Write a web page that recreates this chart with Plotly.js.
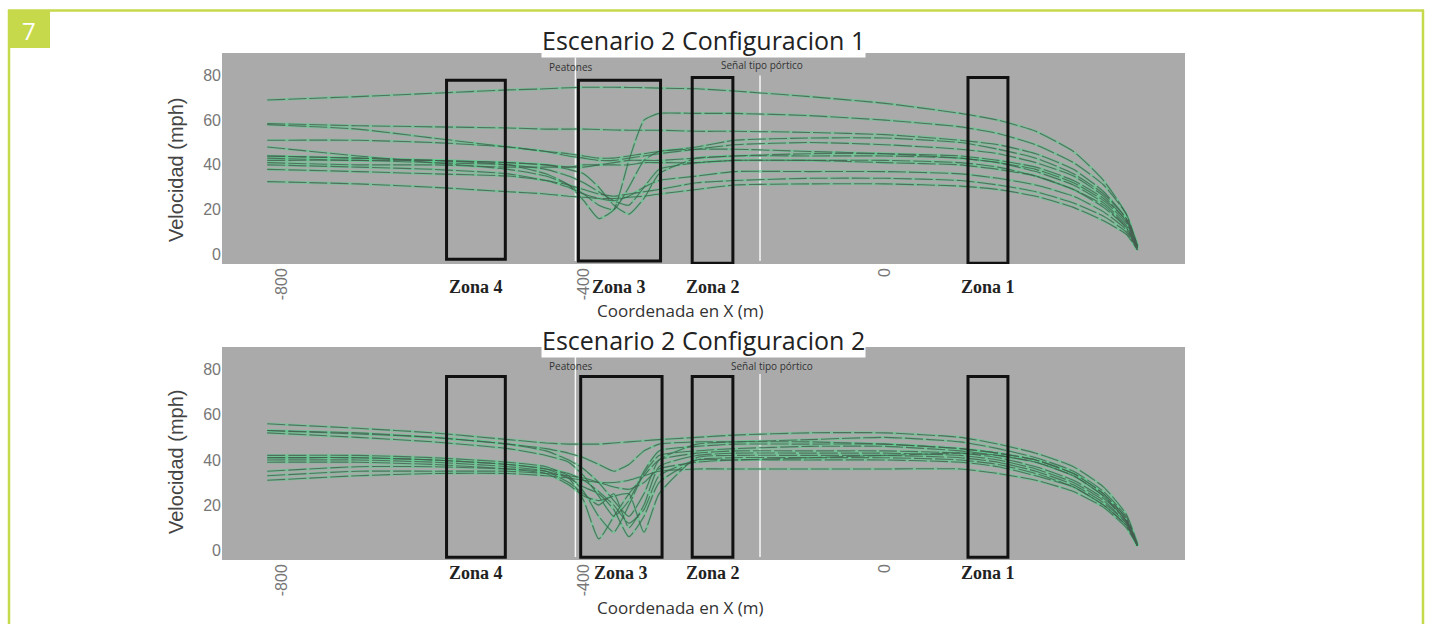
<!DOCTYPE html>
<html>
<head>
<meta charset="utf-8">
<script src="https://cdn.plot.ly/plotly-3.0.1.min.js"></script>
<style>
html,body{margin:0;padding:0;background:#fff;}
#chart{width:1432px;height:624px;}
</style>
</head>
<body>
<div id="chart"></div>
<script>
// ---- data ----
const xGrid = [-820,-700,-600,-500,-450,-420,-400,-380,-360,-340,-320,-300,-250,-200,-100,0,100,150,200,250,290,320,335];

const config1Speeds = [
  [69,70.5,72,73.5,74,74.5,74.7,74.7,74.7,74.6,74.5,74.3,74,73,70.5,67.5,63,60,55,46,33,18,3],
  [58.5,57.5,57,56.5,56,56,56,55.8,55.6,55.5,55.5,55.5,55,55,54.5,53.5,51,49,45,38,28,16,4],
  [44,43,42,40,36,31,24,16,20,42,60,63,63,63,62,60,57,54,49,41,31,18,4],
  [58,56,52,48,46,44,43,42,42,43,44,45,47,49,50,49,47,45,41,35,26,15,3],
  [51,51,50,48,46,45,44,43,43,44,45,46,48,51,52,52,50,47,43,36,27,16,4],
  [48,44,41,38,35,31,27,22,20,30,42,46,47,47,46,45,43,41,37,31,23,13,3],
  [44,43,42,41,40,39,39,40,41,42,42,42,43,44,44,44,43,41,38,32,24,14,3],
  [42,42,41,40,38,35,32,28,24,22,30,38,41,42,42,42,41,39,35,29,21,12,3],
  [41,40,40,39,39,39,40,40,40,40,41,41,41,42,42,41,40,38,35,29,22,12,2],
  [40,39,38,36,33,30,27,25,24,26,30,33,35,37,37,37,36,34,31,26,19,11,2],
  [38,37,36,35,33,31,29,27,26,27,28,29,32,33,34,34,33,31,28,23,17,10,2],
  [32.5,31.5,30,28,27,26,25.5,25,25,25.5,26,27,29,31,31.5,31.5,30.5,29,26,21,15,9,2],
  [43,42,42,41,40,38,36,30,22,18,25,36,43,44,45,45,44,42,39,33,25,15,3]
];

const config2Speeds = [
  [56,54,52,49,47.5,47,47,47,47.5,48,48.5,49,50,51,52,52,50,47,43,37,28,16,3],
  [53,51.5,50,47,45,43,41,38,35,38,44,47,48,48,49,50,48,45,41,35,26,15,2],
  [52,50,48,45,42,39,33,24,15,22,35,44,46,47,47,47,45,43,40,34,25,14,2],
  [42,42,41,39,37,33,26,15,8,20,34,42,44,45,46,46,44,42,39,33,24,13,2],
  [41,41,40,38,36,32,22,5,15,25,33,40,43,44,44,44,43,41,37,31,23,13,2],
  [40,40,39,37,35,30,25,20,25,10,20,37,42,43,43,43,42,40,36,30,22,12,2],
  [39,39,38,36,34,29,24,22,24,25,8,25,41,42,42,42,41,39,35,29,21,12,2],
  [35,37,37,36,35,32,28,25,18,6,15,30,40,41,41,41,40,38,34,28,20,11,2],
  [33,35,35,35,34,33,32,30,28,27,30,36,39,40,40,40,39,37,33,28,20,11,2],
  [31,33,34,34,33,32,31,30,30,31,33,35,36,36,36,36,36,34,31,26,19,10,2],
  [41,41,40,38,36,34,31,26,20,12,18,33,40,40,41,42,43,42,39,33,24,13,2],
  [53,52,50,47,44,40,36,30,22,15,25,40,47,48,48,47,45,43,40,34,25,14,2]
];

const xTicks = [-800,-400,0];
const xTickLabels = ['-800','-400','0'];
const yTicks = [0,20,40,60,80];

const zoneNames = ['Zona 4','Zona 3','Zona 2','Zona 1'];
const zoneX0 = [-582,-407,-256,110];
const zoneX1 = [-504,-298,-202,163];
const zoneTop1 = [77.8,77.8,79,79];
const zoneBot1 = [-2.2,-3,-4,-4];
const zoneX0b = [-582,-404,-256,110];
const zoneX1b = [-504,-296,-202,163];
const zoneTop2 = [76.9,76.9,76.9,76.9];
const zoneBot2 = [-3.1,-3.1,-3.1,-3.1];

const markerNames = ['Peatones','Señal tipo pórtico'];
const markerX = [-411,-166];
const markerLabelX1 = [-417,-163];
const markerLabelX2 = [-417,-150];

const titles = ['Escenario 2 Configuracion 1','Escenario 2 Configuracion 2'];

// ---- build ----
const traces = [];
function addLines(speeds, xa, ya){
  speeds.forEach(s=>{
    traces.push({x:xGrid,y:s,xaxis:xa,yaxis:ya,mode:'lines',hoverinfo:'skip',showlegend:false,
      line:{color:'rgba(90,205,140,0.6)',width:2.6,shape:'spline',smoothing:0.5}});
  });
  speeds.forEach(s=>{
    traces.push({x:xGrid,y:s,xaxis:xa,yaxis:ya,mode:'lines',hoverinfo:'skip',showlegend:false,
      line:{color:'rgba(70,92,80,0.8)',width:1.1,dash:'18px,3px',shape:'spline',smoothing:0.5}});
  });
}
addLines(config1Speeds,'x','y');
addLines(config2Speeds,'x2','y2');

const W=1432,H=624;
const px=v=>v/W, py=v=>1-v/H;

const shapes=[];
const annotations=[];
function ann(o){annotations.push(Object.assign({showarrow:false,xanchor:'center',yanchor:'middle'},o));}

// frame & badge
shapes.push({type:'line',xref:'paper',yref:'paper',x0:px(8),x1:px(1424),y0:py(10.5),y1:py(10.5),line:{color:'#c6d94b',width:2.5}});
shapes.push({type:'line',xref:'paper',yref:'paper',x0:px(9),x1:px(9),y0:py(10),y1:0,line:{color:'#c6d94b',width:2.5}});
shapes.push({type:'line',xref:'paper',yref:'paper',x0:px(1423),x1:px(1423),y0:py(10),y1:0,line:{color:'#c6d94b',width:2.5}});
shapes.push({type:'rect',xref:'paper',yref:'paper',x0:px(8),x1:px(50),y0:py(48),y1:py(10),fillcolor:'#c6d94b',line:{width:0}});
ann({xref:'paper',yref:'paper',x:px(29),y:py(30),text:'7',font:{family:'Open Sans, sans-serif',size:24,color:'#ffffff'}});

function panel(xa,ya,x0s,x1s,tops,bots,lblY,markLblX,markTopVals,markBot,titleY,xtitleY,ytitleY,markLblY,idx){
  for(let i=0;i<zoneNames.length;i++){
    shapes.push({type:'rect',xref:xa,yref:ya,x0:x0s[i],x1:x1s[i],y0:bots[i],y1:tops[i],line:{color:'#111',width:3},fillcolor:'rgba(0,0,0,0)'});
    ann({xref:xa,yref:'paper',x:(x0s[i]+x1s[i])/2,y:py(lblY),text:'<b>'+zoneNames[i]+'</b>',
      font:{family:'Liberation Serif, Times New Roman, serif',size:18,color:'#222'}});
  }
  for(let i=0;i<markerX.length;i++){
    shapes.push({type:'line',xref:xa,yref:ya,x0:markerX[i],x1:markerX[i],y0:markBot,y1:markTopVals[i],line:{color:'rgba(255,255,255,0.9)',width:1.5},layer:'below'});
    ann({xref:xa,yref:'paper',x:markLblX[i],y:py(markLblY[i]),text:markerNames[i],
      font:{family:'Open Sans, sans-serif',size:10,color:'#333'}});
  }
  ann({xref:'paper',yref:'paper',x:px(703),y:py(titleY),text:titles[idx],bgcolor:'#ffffff',borderpad:0,
    font:{family:'Open Sans, sans-serif',size:25,color:'#222'}});
  ann({xref:'paper',yref:'paper',x:px(680),y:py(xtitleY),text:'Coordenada en X (m)',
    font:{family:'Open Sans, sans-serif',size:17,color:'#333'}});
  ann({xref:'paper',yref:'paper',x:px(176),y:py(ytitleY),text:'Velocidad (mph)',textangle:-90,
    font:{family:'Liberation Sans, Arial, sans-serif',size:20,color:'#444'}});
}
panel('x','y',zoneX0,zoneX1,zoneTop1,zoneBot1,287,markerLabelX1,[88,80],-3,40,310,170,[67,65],0);
panel('x2','y2',zoneX0b,zoneX1b,zoneTop2,zoneBot2,573,markerLabelX2,[86,78],-3,340,607,462,[366,366],1);

const xAxisBase = {range:[-880,398],tickvals:xTicks,ticktext:xTickLabels,tickangle:-90,showgrid:false,zeroline:false,showline:false,
  tickfont:{family:'Liberation Sans, Arial, sans-serif',size:16,color:'#777'},fixedrange:true};
const yAxisBase = {range:[-4.3,90],tickvals:yTicks,showgrid:false,zeroline:false,showline:false,
  tickfont:{family:'Liberation Sans, Arial, sans-serif',size:16,color:'#777'},fixedrange:true};

const layout = {
  width:W,height:H,margin:{l:0,r:0,t:0,b:0},
  paper_bgcolor:'#ffffff',plot_bgcolor:'#aaaaaa',showlegend:false,
  xaxis:Object.assign({},xAxisBase,{domain:[px(222),px(1185)],anchor:'y'}),
  yaxis:Object.assign({},yAxisBase,{domain:[py(264),py(53)],anchor:'x'}),
  xaxis2:Object.assign({},xAxisBase,{domain:[px(222),px(1185)],anchor:'y2'}),
  yaxis2:Object.assign({},yAxisBase,{domain:[py(560),py(347)],anchor:'x2'}),
  shapes:shapes,annotations:annotations
};
Plotly.newPlot('chart',traces,layout,{displayModeBar:false,staticPlot:true});
</script>
</body>
</html>
